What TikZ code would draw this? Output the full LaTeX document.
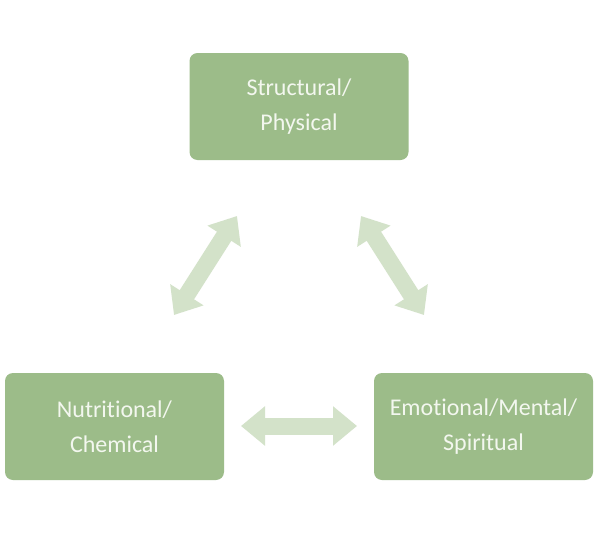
\documentclass[tikz,border=0pt]{standalone}
\usepackage{fontspec}
\setmainfont[Ligatures=NoCommon]{Carlito}
\usetikzlibrary{arrows.meta}
\definecolor{boxgreen}{HTML}{9CBC89}
\definecolor{arrowgreen}{HTML}{D3E2C9}
\definecolor{txt}{HTML}{F3F7EF}
\begin{document}
\begin{tikzpicture}[x=1pt,y=-1pt,
  box/.style={fill=boxgreen,draw=none,rounded corners=8pt,minimum width=219pt,minimum height=107pt,
    text=txt,align=center,inner sep=0pt,font=\fontsize{24}{35}\selectfont},
  dblarrow/.style={draw=arrowgreen,line width=17pt,
    {Triangle[width=38pt,length=24pt]}-{Triangle[width=38pt,length=24pt]}}]
\useasboundingbox[fill=white] (0,0) rectangle (598,533);
\node[box] (top) at (299,106.5) {Structural/\\Physical};
\node[box] (left) at (114.5,426.5) {Nutritional/\\Chemical};
\node[box] (right) at (483.5,426.5) {Emotional/Mental/\\Spiritual};
\coordinate (l1) at (237,216);
\coordinate (l2) at (174,315);
\coordinate (r1) at (361,216);
\coordinate (r2) at (424,315);
\coordinate (h1) at (241,426);
\coordinate (h2) at (357,426);
\draw[dblarrow] (l1) -- (l2);
\draw[dblarrow] (r1) -- (r2);
\draw[dblarrow] (h1) -- (h2);
\end{tikzpicture}
\end{document}
